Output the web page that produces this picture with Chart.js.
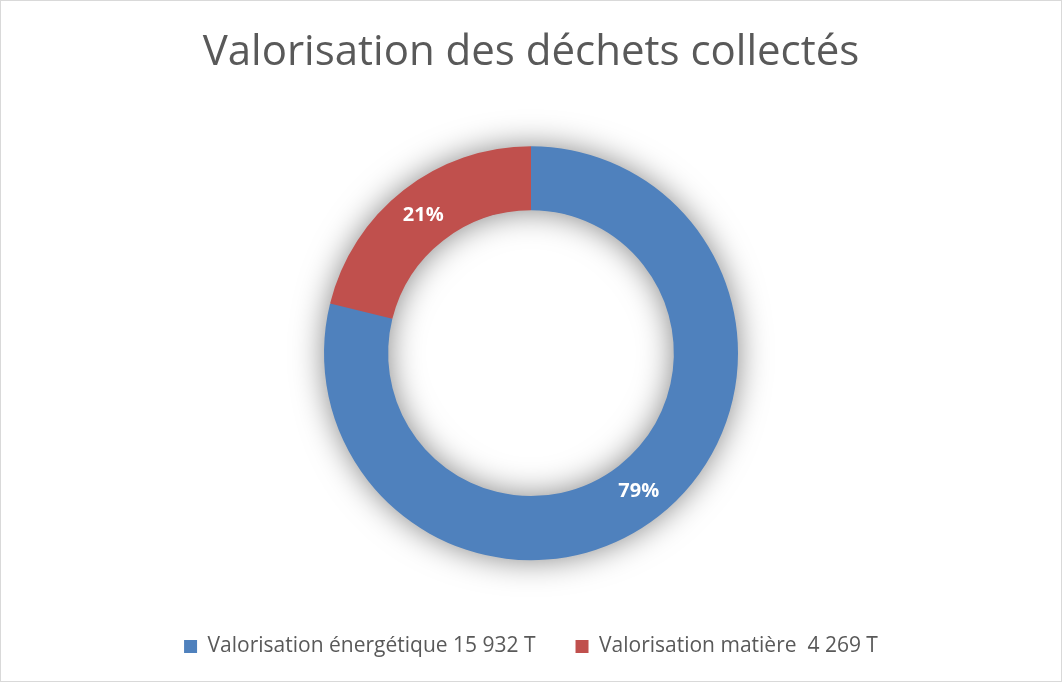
<!DOCTYPE html>
<html>
<head>
<meta charset="utf-8">
<script src="https://cdn.jsdelivr.net/npm/chart.js@4/dist/chart.umd.min.js"></script>
<style>
  html, body { margin: 0; padding: 0; background: #ffffff; }
  #wrap { position: relative; width: 1062px; height: 682px; box-sizing: border-box; border: 1px solid #d9d9d9; }
  canvas { display: block; }
</style>
</head>
<body>
<div id="wrap"><canvas id="c" width="1060" height="680"></canvas></div>
<script>
const chartTitle = "Valorisation des déchets collectés";
const categories = ["Valorisation énergétique 15 932 T", "Valorisation matière  4 269 T"];
const tonnages = [15932, 4269];
const sliceColors = ["#4F81BD", "#C0504D"];

// soft glow behind the whole ring, drawn once so no seams appear between slices
const shadowPlugin = {
  id: 'ringShadow',
  beforeDatasetsDraw(chart) {
    const meta = chart.getDatasetMeta(0);
    if (!meta.data.length) return;
    const arc = meta.data[0];
    const ctx = chart.ctx;
    ctx.save();
    ctx.shadowColor = 'rgba(0,0,0,0.5)';
    ctx.shadowBlur = 32;
    ctx.fillStyle = '#4F81BD';
    ctx.beginPath();
    ctx.arc(arc.x, arc.y, arc.outerRadius - 1, 0, Math.PI * 2, false);
    ctx.arc(arc.x, arc.y, arc.innerRadius + 1, Math.PI * 2, 0, true);
    ctx.closePath();
    ctx.fill();
    ctx.restore();
  }
};

const pctLabels = {
  id: 'pctLabels',
  afterDatasetsDraw(chart) {
    const ctx = chart.ctx;
    const meta = chart.getDatasetMeta(0);
    const data = chart.data.datasets[0].data;
    const total = data.reduce((a, b) => a + b, 0);
    ctx.save();
    ctx.fillStyle = '#ffffff';
    ctx.font = 'bold 20px "Open Sans", sans-serif';
    ctx.textAlign = 'center';
    ctx.textBaseline = 'middle';
    meta.data.forEach((arc, i) => {
      const p = arc.tooltipPosition();
      ctx.fillText(Math.round(data[i] / total * 100) + '%', p.x, p.y);
    });
    ctx.restore();
  }
};

new Chart(document.getElementById('c'), {
  type: 'doughnut',
  data: {
    labels: categories,
    datasets: [{
      data: tonnages,
      backgroundColor: sliceColors,
      borderColor: '#ffffff',
      borderWidth: 0,
      radius: 207,
      cutout: '69%'
    }]
  },
  options: {
    responsive: false,
    animation: false,
    layout: { padding: { top: 0, bottom: 14, left: 0, right: 0 } },
    plugins: {
      title: {
        display: true,
        text: chartTitle,
        color: '#595959',
        font: { family: '"Open Sans", sans-serif', size: 42, weight: 'normal' },
        padding: { top: 27, bottom: 32 }
      },
      legend: {
        position: 'bottom',
        labels: {
          color: '#595959',
          font: { family: '"Open Sans", sans-serif', size: 21 },
          boxWidth: 13,
          boxHeight: 13,
          padding: 40
        }
      },
      tooltip: { enabled: false }
    }
  },
  plugins: [shadowPlugin, pctLabels]
});
</script>
</body>
</html>
